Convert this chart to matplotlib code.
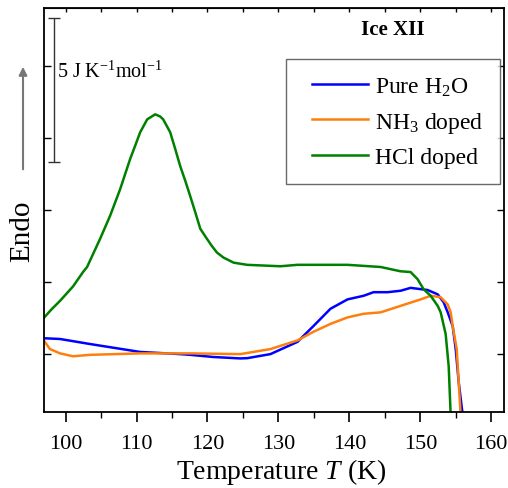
import matplotlib
matplotlib.use("Agg")
import matplotlib.pyplot as plt
from matplotlib.lines import Line2D
from matplotlib.legend_handler import HandlerLine2D

plt.rcParams['font.family'] = ['Liberation Serif', 'DejaVu Serif']
plt.rcParams['mathtext.fontset'] = 'custom'
plt.rcParams['mathtext.rm'] = 'Liberation Serif'
plt.rcParams['mathtext.it'] = 'Liberation Serif:italic'

# Pure H2O
T_h2o = [97.0, 99.22, 103.45, 110.51, 116.16, 117.58, 120.82, 124.63, 125.62, 128.87,
         132.68, 134.94, 137.34, 139.74, 142.0, 143.41, 145.39, 147.22, 148.63, 151.03,
         152.45, 153.29, 153.86, 154.56, 154.99, 155.41, 155.98]
y_h2o = [0.22, 0.21, 0.14, 0.03, 0.0, -0.01, -0.04, -0.06, -0.056, 0.0,
         0.17, 0.39, 0.63, 0.76, 0.81, 0.86, 0.86, 0.88, 0.92, 0.89,
         0.83, 0.72, 0.58, 0.39, 0.07, -0.39, -0.85]

# NH3 doped
T_nh3 = [97.0, 97.8, 99.22, 101.05, 103.45, 110.51, 117.58, 124.63, 128.87, 132.68,
         134.94, 137.34, 139.74, 142.0, 144.4, 147.22, 150.05, 151.46, 152.87, 153.86,
         154.28, 154.56, 155.13, 155.41, 155.69]
y_nh3 = [0.18, 0.07, 0.01, -0.03, -0.01, 0.01, 0.01, 0.0, 0.07, 0.19,
         0.31, 0.42, 0.51, 0.56, 0.58, 0.67, 0.76, 0.81, 0.79, 0.69,
         0.58, 0.39, 0.07, -0.39, -0.85]

# HCl doped
T_hcl = [97.0, 98.0, 99.22, 101.05, 102.46, 103.03, 104.86, 106.27, 107.69, 109.10,
         109.83, 110.51, 111.5, 112.63, 113.33, 113.76, 114.75, 115.45, 116.16, 116.86,
         117.58, 118.28, 118.99, 119.93, 120.63, 121.34, 122.27, 123.69, 125.58, 130.28,
         132.68, 139.74, 144.4, 147.22, 148.63, 149.62, 150.47, 151.46, 152.45, 152.87,
         153.57, 154.0, 154.28]
y_hcl = [0.51, 0.62, 0.74, 0.94, 1.14, 1.21, 1.60, 1.92, 2.29, 2.71,
         2.90, 3.08, 3.26, 3.33, 3.30, 3.26, 3.08, 2.85, 2.61, 2.41,
         2.19, 1.97, 1.74, 1.60, 1.50, 1.41, 1.34, 1.27, 1.24, 1.22,
         1.24, 1.24, 1.21, 1.15, 1.14, 1.04, 0.90, 0.81, 0.67, 0.58,
         0.28, -0.17, -0.85]

fig = plt.figure(figsize=(5.08, 4.89), dpi=100)
ax = fig.add_axes([0.0872, 0.156, 0.905, 0.8246])

ax.plot(T_h2o, y_h2o, color='#0000ff', lw=1.8, label='Pure H$_2$O')
ax.plot(T_nh3, y_nh3, color='#ff7f0e', lw=1.8, label='NH$_3$ doped')
ax.plot(T_hcl, y_hcl, color='#008000', lw=1.8, label='HCl doped')

ax.set_xlim(97, 161.8)
ax.set_ylim(-0.8, 4.8)

ax.set_xticks([100, 110, 120, 130, 140, 150, 160])
ax.set_xticks([105, 115, 125, 135, 145, 155], minor=True)
ax.set_yticks([0, 1, 2, 3, 4])
ax.set_yticklabels([])
ax.tick_params(axis='x', which='major', direction='out', length=7, width=1.2,
               labelsize=16, pad=9)
ax.tick_params(axis='x', which='minor', direction='out', length=4, width=1.0)
ax.tick_params(axis='y', which='major', direction='in', length=5, width=1.0, right=True)
ax.tick_params(axis='x', which='both', top=False)
for s in ax.spines.values():
    s.set_linewidth(1.3)

# top ticks every 5 K, pointing inside
ax2 = ax.secondary_xaxis('top')
ax2.set_xticks([100, 105, 110, 115, 120, 125, 130, 135, 140, 145, 150, 155, 160])
ax2.set_xticklabels([])
ax2.tick_params(direction='in', length=3, width=1.0)

ax.set_xlabel('Temperature $T$ (K)', fontsize=20, labelpad=2)
ax.xaxis.label.set_x(0.515)

# scale bar
ax.errorbar([98.37], [3.667], yerr=[1.0], color='#333333', lw=1.0, capsize=4, capthick=1.0)
ax.text(98.85, 3.93, '5 J K$^{-1}$mol$^{-1}$', fontsize=14.5, va='center', ha='left')

ax.text(0.759, 0.949, 'Ice XII', transform=ax.transAxes, fontsize=15,
        fontweight='bold', ha='center', va='center')

leg = ax.legend(loc='upper right', bbox_to_anchor=(0.991, 0.875), fontsize=17,
                fancybox=False, edgecolor='#444444', handlelength=2.75,
                labelspacing=0.5, borderpad=0.7, handletextpad=0.3,
                borderaxespad=0, handler_map={Line2D: HandlerLine2D(xpad=0.4)})
leg.get_frame().set_linewidth(1.0)

fig.text(0.043, 0.528, 'Endo', rotation=90, fontsize=21, ha='center', va='center')
fig.patches.append(matplotlib.patches.FancyArrowPatch(
    (0.0453, 0.646), (0.0453, 0.867), transform=fig.transFigure,
    arrowstyle='-|>', mutation_scale=12, color='#777777', lw=1.5))

fig.savefig('out.png', dpi=100)
